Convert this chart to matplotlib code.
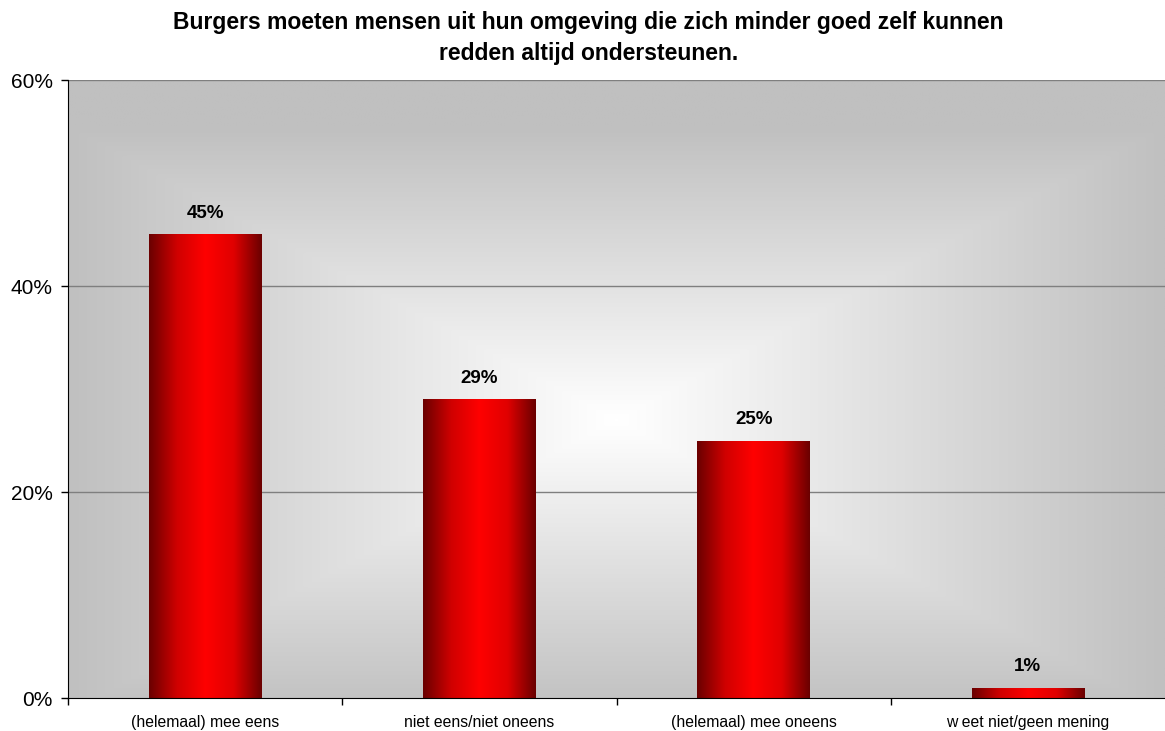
import numpy as np
import matplotlib.pyplot as plt
from matplotlib.colors import LinearSegmentedColormap

plt.rcParams['font.family'] = ['Liberation Sans', 'DejaVu Sans']

# data
categories = ["(helemaal) mee eens", "niet eens/niet oneens", "(helemaal) mee oneens", "w eet niet/geen mening"]
values = [45, 29, 25, 1]
value_labels = ["45%", "29%", "25%", "1%"]
yticks = [0, 20, 40, 60]
ytick_labels = ["0%", "20%", "40%", "60%"]
title = "Burgers moeten mensen uit hun omgeving die zich minder goed zelf kunnen\nredden altijd ondersteunen."

fig = plt.figure(figsize=(11.65, 7.31), dpi=100)
ax = fig.add_axes([68 / 1165, 33 / 731, 1 - 68 / 1165, 618 / 731])

ax.set_xlim(-0.5, len(categories) - 0.5)
ax.set_ylim(0, 60)

# achtergrond: rechthoekig verloop van wit (midden) naar grijs (randen)
gx, gy = np.meshgrid(np.linspace(-1, 1, 400), np.linspace(-1, 1, 300))
t = np.maximum(np.abs(gx - 0.0), np.abs(gy + 0.1) / 0.95)
t = np.clip(t, 0, 1)
bg_cmap = LinearSegmentedColormap.from_list("bg", ["#ffffff", "#c0c0c0"])
ax.imshow(t, cmap=bg_cmap, extent=(-0.5, len(categories) - 0.5, 0, 60),
          aspect='auto', zorder=0, origin='lower', interpolation='bilinear')

for yv in yticks[1:]:
    ax.axhline(yv, color='#7f7f7f', lw=1.0, zorder=1)

# balken met horizontaal verloop
bar_cmap = LinearSegmentedColormap.from_list("bar", ["#6a0000", "#d00000", "#ff0000", "#e00000", "#6a0000"])
grad = np.linspace(0, 1, 256).reshape(1, -1)
bars = ax.bar(range(len(categories)), values, width=0.41, color='none', linewidth=0, zorder=2)
for b in bars:
    x0, w, h = b.get_x(), b.get_width(), b.get_height()
    im = ax.imshow(grad, cmap=bar_cmap, extent=(x0, x0 + w, 0, h),
                   aspect='auto', zorder=2, interpolation='bilinear')
    im.set_clip_path(b)

for i, (v, lab) in enumerate(zip(values, value_labels)):
    ax.annotate(lab, (i, v), xytext=(0, 9), textcoords='offset points',
                ha='center', va='bottom', fontsize=13.5, fontweight='bold')

ax.set_xlim(-0.5, len(categories) - 0.5)
ax.set_ylim(0, 60)
ax.set_xticks(range(len(categories)))
ax.set_xticklabels(categories, fontsize=11.3)
ax.set_xticks(np.arange(-0.5, len(categories) - 0.5, 1), minor=True)
ax.tick_params(axis='x', which='major', length=0, pad=12)
ax.tick_params(axis='x', which='minor', length=5, direction='out', width=1)
ax.set_yticks(yticks)
ax.set_yticklabels(ytick_labels, fontsize=15)
ax.tick_params(axis='y', length=5, direction='out', width=1, pad=6)

ax.spines['top'].set_visible(False)
ax.spines['right'].set_visible(False)
ax.spines['left'].set_color('black')
ax.spines['bottom'].set_color('black')

fig.text(0.505, 1 - 11 / 731, title, ha='center', va='top', fontsize=16.5,
         fontweight='bold', linespacing=1.45)

fig.savefig("out.png", dpi=100)
plt.close()
